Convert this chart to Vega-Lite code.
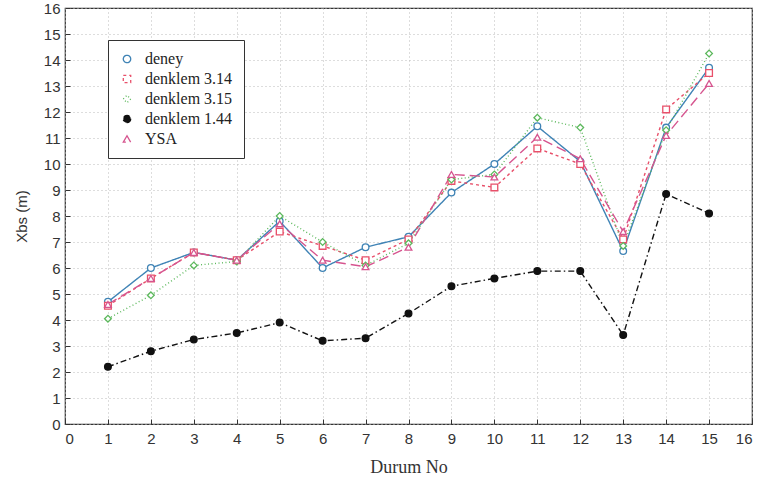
{
  "$schema": "https://vega.github.io/schema/vega-lite/v6.json",
  "autosize": "none",
  "width": 687,
  "height": 416,
  "padding": {"left": 65, "top": 8, "right": 9, "bottom": 58},
  "background": "white",
  "config": {
    "view": {"stroke": "#333", "strokeWidth": 1.2},
    "axis": {"labelFont": "Liberation Sans", "labelFontSize": 15, "labelColor": "#333", "titleColor": "#333"}
  },
  "data": {"values": [
    {"no":1,"series":"deney","value":4.7},{"no":2,"series":"deney","value":6.0},{"no":3,"series":"deney","value":6.6},{"no":4,"series":"deney","value":6.3},{"no":5,"series":"deney","value":7.8},{"no":6,"series":"deney","value":6.0},{"no":7,"series":"deney","value":6.8},{"no":8,"series":"deney","value":7.2},{"no":9,"series":"deney","value":8.9},{"no":10,"series":"deney","value":10.0},{"no":11,"series":"deney","value":11.45},{"no":12,"series":"deney","value":10.1},{"no":13,"series":"deney","value":6.65},{"no":14,"series":"deney","value":11.4},{"no":15,"series":"deney","value":13.7},
    {"no":1,"series":"denklem 3.14","value":4.55},{"no":2,"series":"denklem 3.14","value":5.6},{"no":3,"series":"denklem 3.14","value":6.6},{"no":4,"series":"denklem 3.14","value":6.3},{"no":5,"series":"denklem 3.14","value":7.4},{"no":6,"series":"denklem 3.14","value":6.85},{"no":7,"series":"denklem 3.14","value":6.3},{"no":8,"series":"denklem 3.14","value":7.1},{"no":9,"series":"denklem 3.14","value":9.35},{"no":10,"series":"denklem 3.14","value":9.1},{"no":11,"series":"denklem 3.14","value":10.6},{"no":12,"series":"denklem 3.14","value":10.0},{"no":13,"series":"denklem 3.14","value":7.1},{"no":14,"series":"denklem 3.14","value":12.1},{"no":15,"series":"denklem 3.14","value":13.5},
    {"no":1,"series":"denklem 3.15","value":4.05},{"no":2,"series":"denklem 3.15","value":4.95},{"no":3,"series":"denklem 3.15","value":6.1},{"no":4,"series":"denklem 3.15","value":6.25},{"no":5,"series":"denklem 3.15","value":8.0},{"no":6,"series":"denklem 3.15","value":7.0},{"no":7,"series":"denklem 3.15","value":6.1},{"no":8,"series":"denklem 3.15","value":6.95},{"no":9,"series":"denklem 3.15","value":9.4},{"no":10,"series":"denklem 3.15","value":9.6},{"no":11,"series":"denklem 3.15","value":11.78},{"no":12,"series":"denklem 3.15","value":11.4},{"no":13,"series":"denklem 3.15","value":6.85},{"no":14,"series":"denklem 3.15","value":11.3},{"no":15,"series":"denklem 3.15","value":14.25},
    {"no":1,"series":"denklem 1.44","value":2.2},{"no":2,"series":"denklem 1.44","value":2.8},{"no":3,"series":"denklem 1.44","value":3.25},{"no":4,"series":"denklem 1.44","value":3.5},{"no":5,"series":"denklem 1.44","value":3.9},{"no":6,"series":"denklem 1.44","value":3.2},{"no":7,"series":"denklem 1.44","value":3.3},{"no":8,"series":"denklem 1.44","value":4.25},{"no":9,"series":"denklem 1.44","value":5.3},{"no":10,"series":"denklem 1.44","value":5.6},{"no":11,"series":"denklem 1.44","value":5.88},{"no":12,"series":"denklem 1.44","value":5.88},{"no":13,"series":"denklem 1.44","value":3.42},{"no":14,"series":"denklem 1.44","value":8.85},{"no":15,"series":"denklem 1.44","value":8.1},
    {"no":1,"series":"YSA","value":4.6},{"no":2,"series":"YSA","value":5.6},{"no":3,"series":"YSA","value":6.6},{"no":4,"series":"YSA","value":6.3},{"no":5,"series":"YSA","value":7.7},{"no":6,"series":"YSA","value":6.3},{"no":7,"series":"YSA","value":6.05},{"no":8,"series":"YSA","value":6.8},{"no":9,"series":"YSA","value":9.6},{"no":10,"series":"YSA","value":9.5},{"no":11,"series":"YSA","value":11.03},{"no":12,"series":"YSA","value":10.2},{"no":13,"series":"YSA","value":7.4},{"no":14,"series":"YSA","value":11.1},{"no":15,"series":"YSA","value":13.1}
  ]},
  "encoding": {
    "x": {"field": "no", "type": "quantitative",
      "scale": {"domain": [0, 16], "nice": false},
      "axis": {"title": "Durum No", "titleFont": "Liberation Serif", "titleFontSize": 18, "titleFontWeight": "normal", "titlePadding": 12,
        "values": [0,1,2,3,4,5,6,7,8,9,10,11,12,13,14,15,16], "tickSize": -5, "labelPadding": 12, "domain": false,
        "grid": true, "gridDash": [1, 3], "gridColor": "#bbb", "tickColor": "#333"}},
    "y": {"field": "value", "type": "quantitative",
      "scale": {"domain": [0, 16], "nice": false},
      "axis": {"title": "Xbs (m)", "titleFont": "Liberation Sans", "titleFontSize": 15, "titleFontWeight": "normal", "titlePadding": 14,
        "values": [0,1,2,3,4,5,6,7,8,9,10,11,12,13,14,15,16], "tickSize": -5, "labelPadding": 10, "domain": false,
        "grid": true, "gridDash": [1, 3], "gridColor": "#bbb", "tickColor": "#333"}},
    "color": {"field": "series", "type": "nominal",
      "scale": {"domain": ["deney","denklem 3.14","denklem 3.15","denklem 1.44","YSA"],
        "range": ["#3f83b5","#e8506a","#5cb85c","#111111","#d6558f"]},
      "legend": {"title": null, "orient": "none", "legendX": 43, "legendY": 32,
        "fillColor": "white", "strokeColor": "#333", "padding": 11, "rowPadding": 4,
        "labelFont": "Liberation Serif", "labelFontSize": 16, "labelColor": "#222", "symbolSize": 55, "symbolStrokeWidth": 1.3, "symbolDash": [1, 0], "labelOffset": 10}}
  },
  "layer": [
    {"mark": {"type": "line", "strokeWidth": 1.4},
     "encoding": {
       "strokeDash": {"field": "series", "type": "nominal",
         "scale": {"domain": ["deney","denklem 3.14","denklem 3.15","denklem 1.44","YSA"],
           "range": [[1,0],[3,3],[1,2.5],[6,3,1.5,3],[10,5]]}, "legend": null}
     }},
    {"mark": {"type": "point", "filled": false, "strokeWidth": 1.3, "opacity": 1},
     "encoding": {
       "shape": {"field": "series", "type": "nominal",
         "scale": {"domain": ["deney","denklem 3.14","denklem 3.15","denklem 1.44","YSA"],
           "range": ["circle","square","diamond","circle","triangle-up"]}},
       "fill": {"field": "series", "type": "nominal",
         "scale": {"domain": ["deney","denklem 3.14","denklem 3.15","denklem 1.44","YSA"],
           "range": ["white","white","white","#111111","white"]}},
       "size": {"value": 45}
     }}
  ]
}
